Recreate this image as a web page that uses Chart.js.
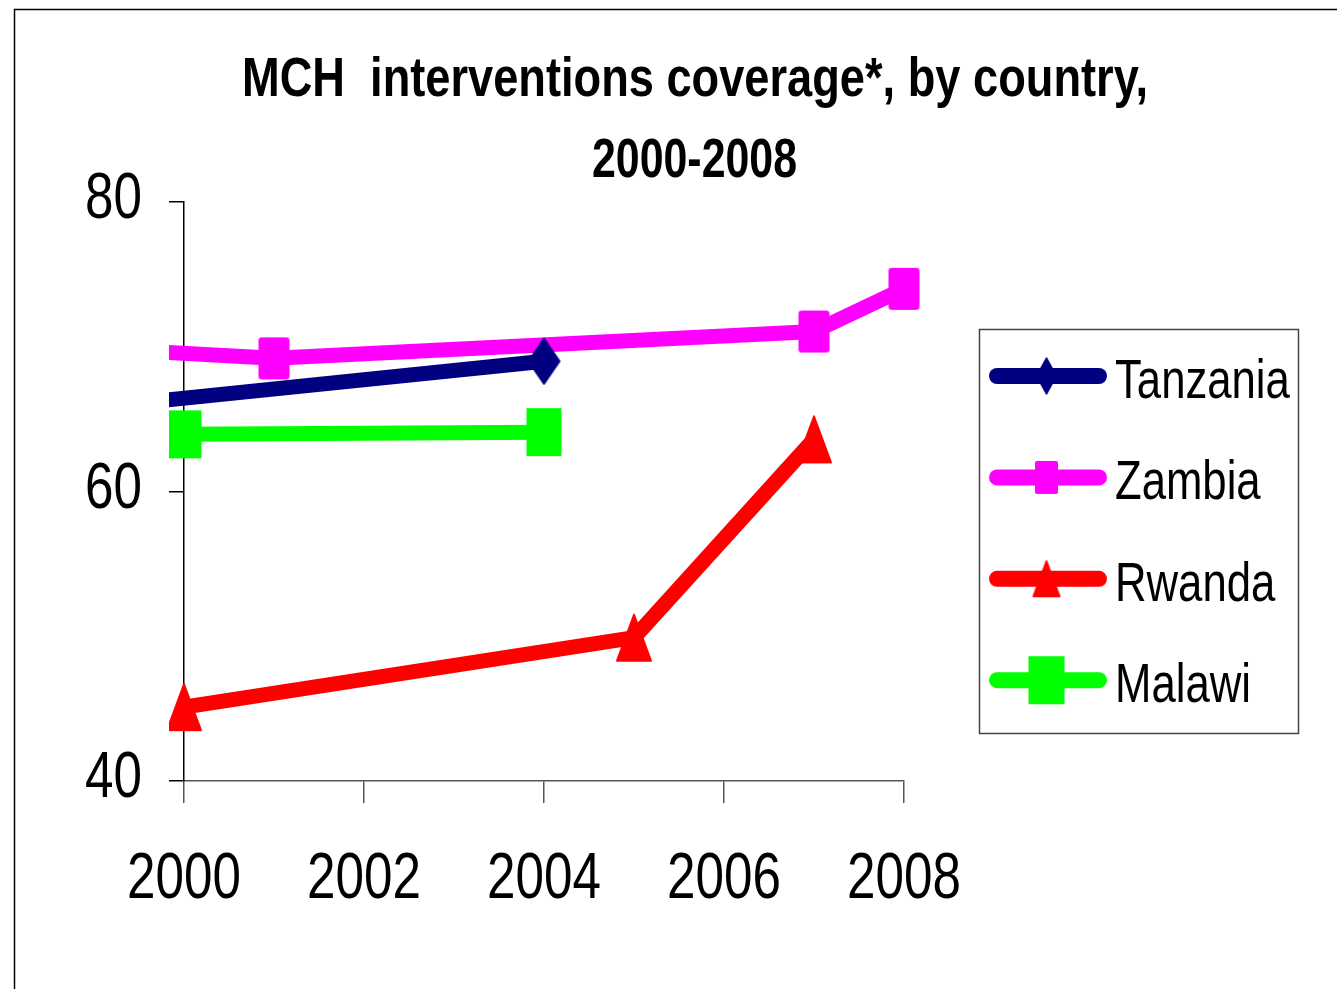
<!DOCTYPE html>
<html><head><meta charset="utf-8">
<script src="https://cdn.jsdelivr.net/npm/chart.js@4.4.1/dist/chart.umd.min.js"></script>
<style>html,body{margin:0;padding:0;background:#fff;overflow:hidden}#wrap{position:relative;width:1337px;height:989px}</style>
</head><body><div id="wrap"><canvas id="c" width="1337" height="989"></canvas></div>
<script>
// ---- data ----
const seriesNames = ['Tanzania', 'Zambia', 'Rwanda', 'Malawi'];
const tanzaniaYears = [1999, 2004];
const tanzaniaValues = [65.8, 69.0];
const zambiaYears = [1999, 2001, 2007, 2008];
const zambiaValues = [69.9, 69.2, 71.05, 74.0];
const rwandaYears = [2000, 2005, 2007];
const rwandaValues = [45.1, 49.9, 63.6];
const malawiYears = [2000, 2004];
const malawiValues = [63.95, 64.1];
const xTickValues = [2000, 2002, 2004, 2006, 2008];
const yTickValues = [40, 60, 80];
const titleLines = ['MCH  interventions coverage*, by country,', '2000-2008'];

// ---- styles ----
const NARROW = '"Liberation Sans Narrow","Arial Narrow","Liberation Sans",Arial,sans-serif';
const colors = ['#000080', '#FF00FF', '#FF0000', '#00FF00'];

function makeMarker(shape, w, h, color, r) {
  const pad = 3;
  const c = document.createElement('canvas');
  c.width = Math.round(w + pad * 2); c.height = Math.round(h + pad * 2);
  const g = c.getContext('2d');
  g.fillStyle = color; g.strokeStyle = color; g.lineJoin = 'round'; g.lineWidth = 2;
  const x0 = (c.width - w) / 2, y0 = (c.height - h) / 2, cx = c.width / 2, cy = c.height / 2;
  g.beginPath();
  if (shape === 'rect') {
    if (r > 0) g.roundRect(x0, y0, w, h, r); else g.rect(x0, y0, w, h);
    g.fill(); return c;
  } else if (shape === 'diamond') {
    g.moveTo(cx, y0 + 1); g.lineTo(x0 + w - 1, cy); g.lineTo(cx, y0 + h - 1); g.lineTo(x0 + 1, cy); g.closePath();
  } else if (shape === 'triangle') {
    g.moveTo(cx, y0 + 1); g.lineTo(x0 + w - 1, y0 + h - 1); g.lineTo(x0 + 1, y0 + h - 1); g.closePath();
  }
  g.fill(); g.stroke();
  return c;
}
const plotMarkers = [
  makeMarker('diamond', 33, 47, colors[0], 0),
  makeMarker('rect', 31, 42, colors[1], 3),
  makeMarker('triangle', 36, 48, colors[2], 0),
  makeMarker('rect', 35, 48, colors[3], 0)
];
const legendMarkers = [
  makeMarker('diamond', 21, 37, colors[0], 0),
  makeMarker('rect', 23, 33, colors[1], 2),
  makeMarker('triangle', 28, 37, colors[2], 0),
  makeMarker('rect', 36, 48, colors[3], 0)
];

const yearLists = [tanzaniaYears, zambiaYears, rwandaYears, malawiYears];
const valueLists = [tanzaniaValues, zambiaValues, rwandaValues, malawiValues];

const datasets = seriesNames.map((name, i) => ({
  label: name,
  data: yearLists[i].map((yr, j) => ({ x: yr, y: valueLists[i][j] })),
  borderColor: colors[i],
  backgroundColor: colors[i],
  borderWidth: 15,
  borderJoinStyle: 'round',
  pointStyle: plotMarkers[i],
  pointRadius: 3,
  pointHoverRadius: 3,
  pointBorderWidth: 0,
  tension: 0,
  clip: { left: 15, top: false, right: false, bottom: false }
}));

// draw text horizontally condensed (narrow face emulation)
function narrowText(ctx, text, x, y, font, sx, align) {
  ctx.save();
  ctx.font = font;
  ctx.textAlign = 'left';
  ctx.textBaseline = 'alphabetic';
  const w = ctx.measureText(text).width * sx;
  let left = x;
  if (align === 'center') left = x - w / 2;
  else if (align === 'right') left = x - w;
  ctx.translate(left, y);
  ctx.scale(sx, 1);
  ctx.fillText(text, 0, 0);
  ctx.restore();
}

const decorPlugin = {
  id: 'decor',
  beforeDraw(chart) {
    const ctx = chart.ctx;
    ctx.save();
    ctx.fillStyle = '#fff'; ctx.fillRect(0, 0, chart.width, chart.height);
    ctx.strokeStyle = '#000'; ctx.lineWidth = 1.5;
    ctx.strokeRect(14.5, 9.5, 2000, 2000);
    ctx.restore();
  },
  afterDraw(chart) {
    const ctx = chart.ctx;
    ctx.save();
    ctx.fillStyle = '#000';
    // title
    const titleSpecs = [{ text: titleLines[0], cx: 695, base: 96, width: 906 }, { text: titleLines[1], cx: 694.5, base: 177, width: 205 }];
    titleSpecs.forEach(s => {
      const font = 'bold 56px ' + NARROW;
      ctx.font = font;
      const w = ctx.measureText(s.text).width;
      narrowText(ctx, s.text, s.cx, s.base, font, s.width / w, 'center');
    });
    // axis tick labels
    const xs = chart.scales.x, ys = chart.scales.y;
    const tickFont = '64px ' + NARROW;
    xTickValues.forEach(v => narrowText(ctx, String(v), xs.getPixelForValue(v), 898, tickFont, 0.8, 'center'));
    yTickValues.forEach(v => narrowText(ctx, String(v), 142, ys.getPixelForValue(v) + 16, tickFont, 0.8, 'right'));
    // legend box
    ctx.strokeStyle = '#444'; ctx.lineWidth = 1.5;
    ctx.strokeRect(979.5, 329.5, 319, 404);
    seriesNames.forEach((name, i) => {
      const ly = 376 + i * 101.4;
      ctx.strokeStyle = colors[i]; ctx.lineWidth = 16; ctx.lineCap = 'round';
      ctx.beginPath(); ctx.moveTo(997, ly); ctx.lineTo(1099, ly); ctx.stroke();
      const m = legendMarkers[i];
      ctx.drawImage(m, 1046.5 - m.width / 2, ly - m.height / 2);
      ctx.fillStyle = '#000';
      narrowText(ctx, name, 1115, ly + 22, '56px ' + NARROW, 0.78, 'left');
    });
    ctx.restore();
  }
};

new Chart(document.getElementById('c'), {
  type: 'line',
  data: { datasets },
  options: {
    responsive: false,
    animation: false,
    devicePixelRatio: 1,
    events: [],
    layout: { padding: { left: 0, top: 202, right: 433, bottom: 0 } },
    plugins: { legend: { display: false }, tooltip: { enabled: false }, title: { display: false } },
    scales: {
      x: {
        type: 'linear', min: 2000, max: 2008,
        afterBuildTicks: s => { s.ticks = xTickValues.map(v => ({ value: v })); },
        afterFit: s => { s.height = 208; },
        grid: { drawOnChartArea: false, drawTicks: true, tickLength: 22, color: '#555', lineWidth: 1.5 },
        border: { display: true, color: '#555', width: 1.5 },
        ticks: { display: false, autoSkip: false }
      },
      y: {
        type: 'linear', min: 40, max: 80,
        afterBuildTicks: s => { s.ticks = yTickValues.map(v => ({ value: v })); },
        afterFit: s => { s.width = 184; },
        grid: { drawOnChartArea: false, drawTicks: true, tickLength: 15, color: '#000', lineWidth: 1.5 },
        border: { display: true, color: '#000', width: 1.5 },
        ticks: { display: false }
      }
    }
  },
  plugins: [decorPlugin]
});
</script>
</body></html>
